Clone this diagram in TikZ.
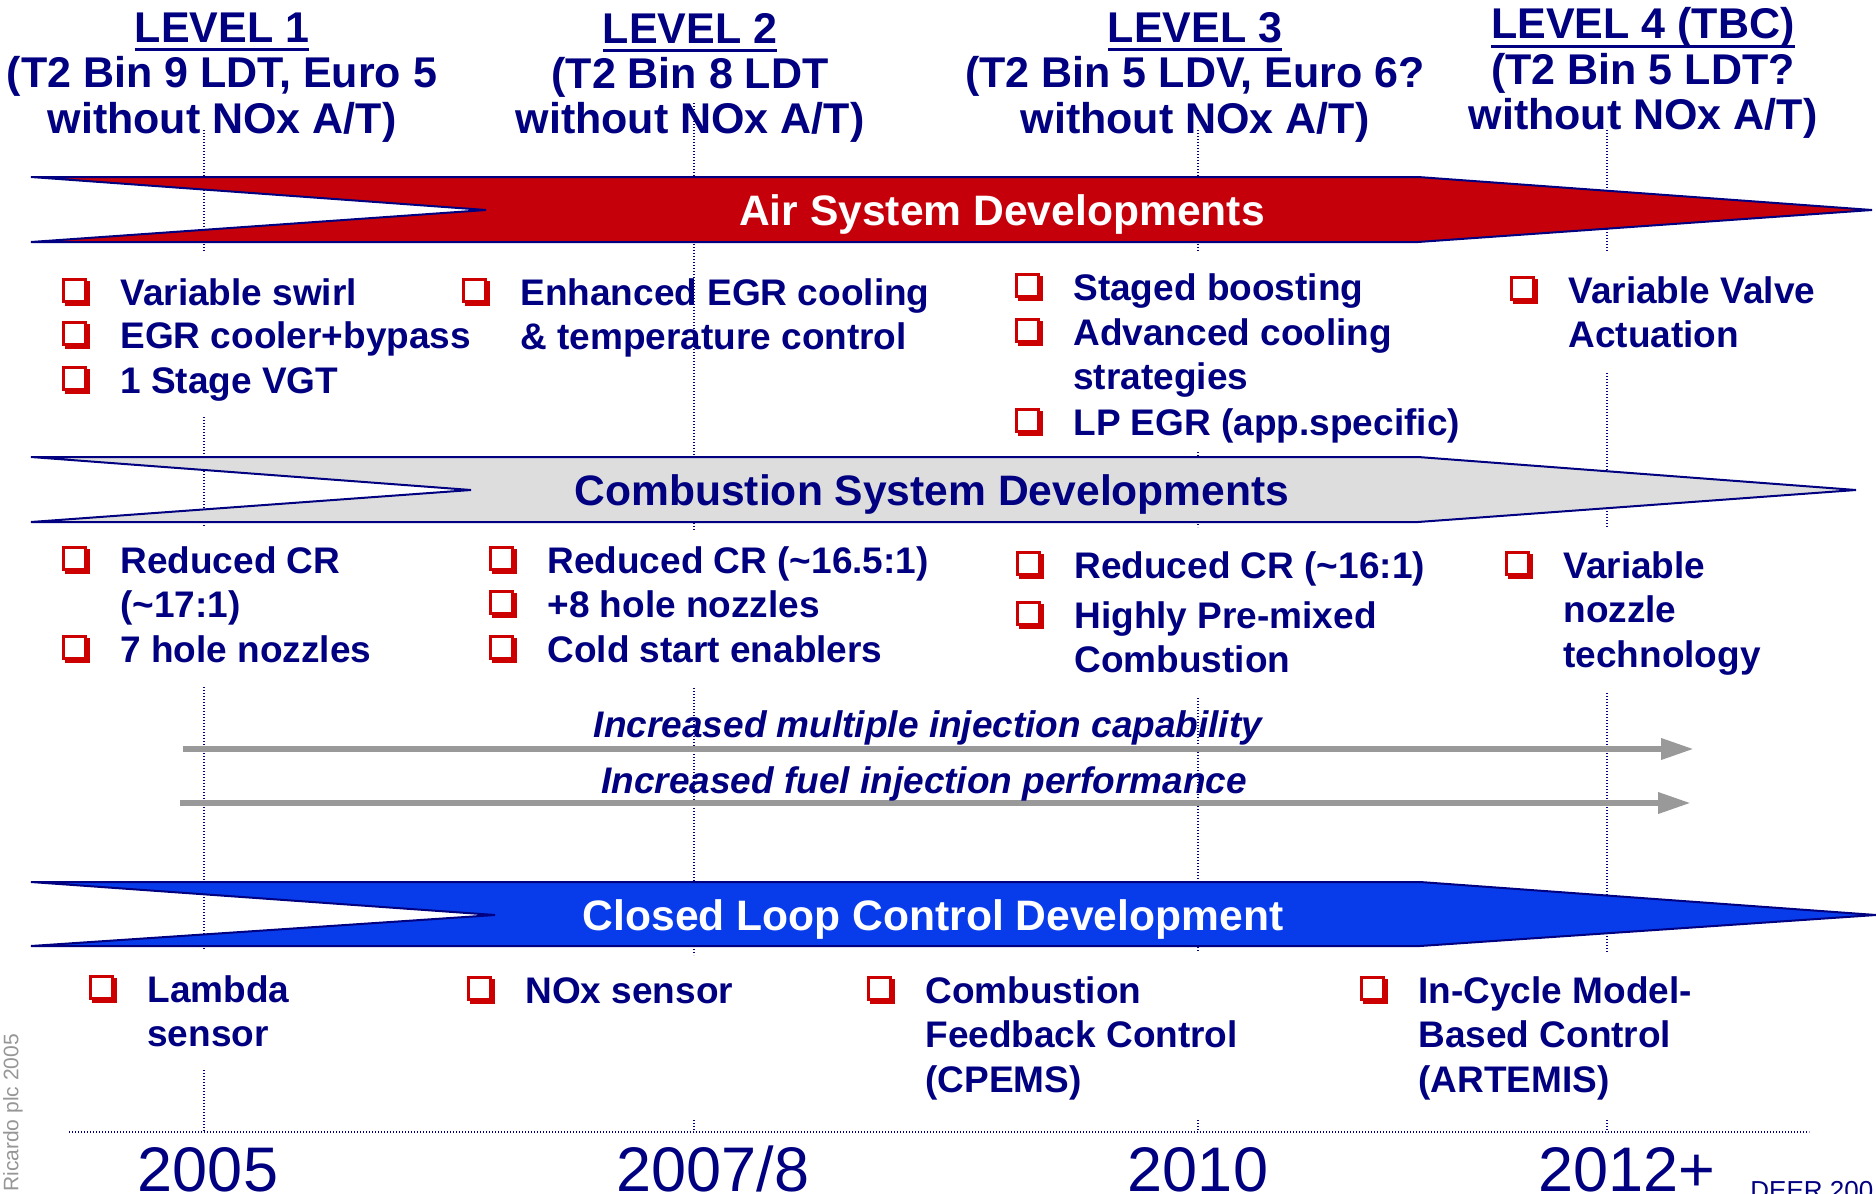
\documentclass[tikz,border=0pt]{standalone}
\usepackage{fontspec}
\setmainfont{Liberation Sans}
\usetikzlibrary{arrows.meta, shadows}

\definecolor{navyblue}{RGB}{0,0,128}
\definecolor{airred}{RGB}{197,0,11}
\definecolor{combgray}{RGB}{221,221,221}
\definecolor{loopblue}{RGB}{8,60,235}
\definecolor{bulred}{RGB}{204,0,0}
\definecolor{arrowgray}{RGB}{153,153,153}
\definecolor{ricgray}{RGB}{150,150,150}

\newcommand{\stack}[1]{\begin{tabular}[t]{@{}l@{}}#1\end{tabular}}
\newcommand{\cstack}[1]{\begin{tabular}[t]{@{}c@{}}#1\end{tabular}}
\newcommand{\levelline}[1]{\setbox0\hbox{#1}\rlap{\rule[-4.5pt]{\wd0}{1.5pt}}\box0}
\newcommand{\bitem}[4]{%
  \node[item] (#1) at (#2,#3) {\stack{#4}};
  \node[sqbullet] at ([xshift=-22.75pt, yshift=7.5pt]#1.base west) {};}

\begin{document}
\begin{tikzpicture}[x=0.5pt, y=-0.5pt]
    \tikzset{hdr/.style = {anchor=base, inner sep=0pt, text=navyblue, font=\fontsize{21.5}{22.75}\selectfont\bfseries}}
    \tikzset{item/.style = {anchor=base west, inner sep=0pt, text=navyblue, font=\fontsize{18.5}{22.25}\selectfont\bfseries}}
    \tikzset{sqbullet/.style = {draw=bulred, fill=white, line width=1.5pt, inner sep=0pt, minimum size=11pt,
        copy shadow={shadow xshift=1.5pt, shadow yshift=-1.5pt, fill=bulred, draw=bulred}}}
    \tikzset{bannertitle/.style = {anchor=base, inner sep=0pt, font=\fontsize{21.3}{24}\selectfont\bfseries}}
    \tikzset{banner/.style = {draw=navyblue, line width=1pt, line join=miter}}
    \tikzset{yearlabel/.style = {anchor=base, inner sep=0pt, text=navyblue, font=\fontsize{31.5}{34}\selectfont}}
    \tikzset{guide/.style = {draw=navyblue, line width=0.6pt, dash pattern=on 0.6pt off 0.9pt}}
    \tikzset{trend/.style = {draw=arrowgray, line width=3.25pt, -{Triangle[length=16.5pt, width=10pt]}}}
    \tikzset{trendlabel/.style = {anchor=base, inner sep=0pt, text=navyblue, font=\fontsize{18.5}{22}\selectfont\bfseries\itshape}}
    \fill[white] (0,0) rectangle (1876,1194);
    \useasboundingbox (0,0) rectangle (1876,1194);
    % year guides
    \draw[guide] (204,130) -- (204,252) (204,417) -- (204,527) (204,687) -- (204,950) (204,1070) -- (204,1132);
    \draw[guide] (694,103) -- (694,530) (694,688) -- (694,955) (694,1120) -- (694,1132);
    \draw[guide] (1198,130) -- (1198,252) (1198,452) -- (1198,527) (1198,698) -- (1198,952) (1198,1120) -- (1198,1132);
    \draw[guide] (1607,130) -- (1607,252) (1607,373) -- (1607,527) (1607,693) -- (1607,952) (1607,1120) -- (1607,1132);
    \draw[guide] (69,1132) -- (1809,1132);
    % banners
    \filldraw[banner, fill=airred] (31,177) -- (1418,177) -- (1872,210) -- (1418,242) -- (31,242) -- (486,210) -- cycle;
    \filldraw[banner, fill=combgray] (31,457) -- (1418,457) -- (1856,490) -- (1418,522) -- (31,522) -- (471,490) -- cycle;
    \filldraw[banner, fill=loopblue] (31,882) -- (1420,882) -- (1876,915) -- (1420,946) -- (31,946) -- (495,915) -- cycle;
    \node[bannertitle, text=white] (airtitle) at (1002,225) {Air System Developments};
    \node[bannertitle, text=navyblue] (combtitle) at (932,505) {Combustion System Developments};
    \node[bannertitle, text=white] (looptitle) at (933,930) {Closed Loop Control Development};
    % levels
    \node[hdr] (lev1) at (222,42) {\cstack{\levelline{LEVEL 1}\\(T2 Bin 9 LDT, Euro 5\\without NOx A/T)}};
    \node[hdr] (lev2) at (690,43) {\cstack{\levelline{LEVEL 2}\\(T2 Bin 8 LDT\\without NOx A/T)}};
    \node[hdr] (lev3) at (1195,42) {\cstack{\levelline{LEVEL 3}\\(T2 Bin 5 LDV, Euro 6?\\without NOx A/T)}};
    \node[hdr] (lev4) at (1643,39) {\cstack{\levelline{LEVEL 4 (TBC)}\\(T2 Bin 5 LDT?\\without NOx A/T)}};
    % air system items
    \bitem{swirl}{120}{305}{Variable swirl}
    \bitem{egrcool}{120}{348}{EGR cooler+bypass}
    \bitem{vgt}{120}{393}{1 Stage VGT}
    \bitem{egrenh}{520}{305}{Enhanced EGR cooling\\\& temperature control}
    \bitem{staged}{1073}{300}{Staged boosting}
    \bitem{advcool}{1073}{345}{Advanced cooling\\strategies}
    \bitem{lpegr}{1073}{435}{LP EGR (app.specific)}
    \bitem{vva}{1568}{303}{Variable Valve\\Actuation}
    % combustion items
    \bitem{cr17}{120}{573}{Reduced CR\\(\textasciitilde17:1)}
    \bitem{noz7}{120}{662}{7 hole nozzles}
    \bitem{cr165}{547}{573}{Reduced CR (\textasciitilde16.5:1)}
    \bitem{noz8}{547}{617}{+8 hole nozzles}
    \bitem{cold}{547}{662}{Cold start enablers}
    \bitem{cr16}{1074}{578}{Reduced CR (\textasciitilde16:1)}
    \bitem{hpm}{1074}{628}{Highly Pre-mixed\\Combustion}
    \bitem{varnoz}{1563}{578}{Variable\\nozzle\\technology}
    % injection trends
    \coordinate (injstart) at (183,749);
    \coordinate (injend) at (1694,749);
    \coordinate (fuelstart) at (180,803);
    \coordinate (fuelend) at (1691,803);
    \draw[trend] (injstart) -- (injend);
    \draw[trend] (fuelstart) -- (fuelend);
    \node[trendlabel] (injlabel) at (928,737) {Increased multiple injection capability};
    \node[trendlabel] (fuellabel) at (924,793) {Increased fuel injection performance};
    % closed loop items
    \bitem{lambda}{147}{1002}{Lambda\\sensor}
    \bitem{noxs}{525}{1003}{NOx sensor}
    \bitem{cpems}{925}{1003}{Combustion\\Feedback Control\\(CPEMS)}
    \bitem{artemis}{1418}{1003}{In-Cycle Model-\\Based Control\\(ARTEMIS)}
    % years
    \node[yearlabel] (y2005) at (208,1191) {2005};
    \node[yearlabel] (y2007) at (713,1191) {2007/8};
    \node[yearlabel] (y2010) at (1198,1191) {2010};
    \node[yearlabel] (y2012) at (1627,1191) {2012+};
    \node[rotate=90, inner sep=0pt, text=ricgray, font=\fontsize{10.5}{12}\selectfont] (ricardo) at (13,1113) {Ricardo plc 2005};
    \node[anchor=base west, inner sep=0pt, text=navyblue, font=\fontsize{13}{15}\selectfont] (deer) at (1750,1199) {DEER 200};
\end{tikzpicture}
\end{document}
